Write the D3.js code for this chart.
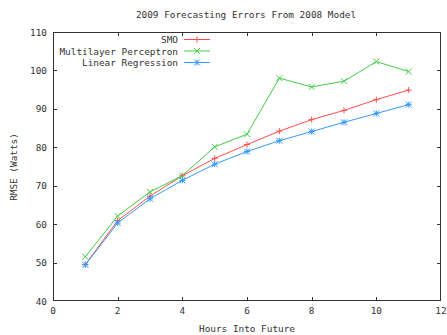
<!DOCTYPE html>
<html>
<head>
<meta charset="utf-8">
<script src="https://cdn.jsdelivr.net/npm/d3@7"></script>
<style>
html,body{margin:0;padding:0;background:#fff;}
svg{display:block;}
text{font-family:"DejaVu Sans Mono",monospace;font-size:9.4px;fill:#333;}
</style>
</head>
<body>
<script>
const hours = [1,2,3,4,5,6,7,8,9,10,11];
const smo = [49.5,60.9,67.3,72.6,77.1,80.7,84.2,87.2,89.6,92.4,94.9];
const mlp = [51.5,62.1,68.4,72.6,80.1,83.4,98.0,95.7,97.2,102.3,99.7];
const linreg = [49.4,60.3,66.6,71.4,75.6,78.9,81.7,84.1,86.5,88.8,91.1];
const xTicks = [0,2,4,6,8,10,12];
const yTicks = [40,50,60,70,80,90,100,110];
const seriesNames = ["SMO","Multilayer Perceptron","Linear Regression"];
const seriesColors = ["#ff4d4d","#44cc44","#3399ff"];
const seriesMarkers = ["plus","cross","star"];
const title = "2009 Forecasting Errors From 2008 Model";
const xLabel = "Hours Into Future";
const yLabel = "RMSE (Watts)";

const W = 447, H = 335;
const L = 53, R = 441, T = 32, B = 301;
const svg = d3.select("body").append("svg").attr("width", W).attr("height", H);
const x = d3.scaleLinear().domain([0,12]).range([L,R]);
const y = d3.scaleLinear().domain([40,110]).range([B,T]);

// frame
svg.append("rect").attr("x",L+0.5).attr("y",T+0.5).attr("width",R-L-1).attr("height",B-T-1)
  .attr("fill","none").attr("stroke","#333").attr("stroke-width",1);

const tl = 4;
const g = svg.append("g");
xTicks.forEach(t => {
  const px = Math.round(x(t))+0.5;
  if (t>0 && t<12) {
    g.append("line").attr("x1",px).attr("x2",px).attr("y1",B).attr("y2",B-tl).attr("stroke","#333");
    g.append("line").attr("x1",px).attr("x2",px).attr("y1",T).attr("y2",T+tl).attr("stroke","#333");
  }
  g.append("text").attr("x",x(t)).attr("y",B+13).attr("text-anchor","middle").text(t);
});
yTicks.forEach(t => {
  const py = Math.round(y(t))+0.5;
  if (t>40 && t<110) {
    g.append("line").attr("x1",L).attr("x2",L+tl).attr("y1",py).attr("y2",py).attr("stroke","#333");
    g.append("line").attr("x1",R).attr("x2",R-tl).attr("y1",py).attr("y2",py).attr("stroke","#333");
  }
  g.append("text").attr("x",L-6).attr("y",y(t)+3.5).attr("text-anchor","end").text(t);
});

svg.append("text").attr("x",246).attr("y",18).attr("text-anchor","middle").text(title);
svg.append("text").attr("x",247).attr("y",332).attr("text-anchor","middle").text(xLabel);
svg.append("text").attr("transform","translate(17,167) rotate(-90)").attr("text-anchor","middle").text(yLabel);

function marker(sel, type, cx, cy, color) {
  const s = 3;
  const gg = sel.append("g").attr("stroke",color).attr("stroke-width",1).attr("fill","none");
  if (type==="plus"||type==="star") {
    gg.append("line").attr("x1",cx-s).attr("x2",cx+s).attr("y1",cy).attr("y2",cy);
    gg.append("line").attr("x1",cx).attr("x2",cx).attr("y1",cy-s).attr("y2",cy+s);
  }
  if (type==="cross"||type==="star") {
    gg.append("line").attr("x1",cx-s).attr("x2",cx+s).attr("y1",cy-s).attr("y2",cy+s);
    gg.append("line").attr("x1",cx-s).attr("x2",cx+s).attr("y1",cy+s).attr("y2",cy-s);
  }
}

const allSeries = [smo, mlp, linreg];
const line = d3.line().x((d,i)=>x(hours[i])).y(d=>y(d));
allSeries.forEach((vals, k) => {
  svg.append("path").datum(vals).attr("d", line).attr("fill","none")
    .attr("stroke", seriesColors[k]).attr("stroke-width",1);
  vals.forEach((v,i) => marker(svg, seriesMarkers[k], x(hours[i]), y(v), seriesColors[k]));
});

// legend
const legY = [39.5, 51, 62.5];
seriesNames.forEach((n,k) => {
  svg.append("text").attr("x",178).attr("y",legY[k]+3.5).attr("text-anchor","end").text(n);
  svg.append("line").attr("x1",184).attr("x2",210).attr("y1",legY[k]).attr("y2",legY[k])
    .attr("stroke",seriesColors[k]).attr("stroke-width",1);
  marker(svg, seriesMarkers[k], 197, legY[k], seriesColors[k]);
});
</script>
</body>
</html>
